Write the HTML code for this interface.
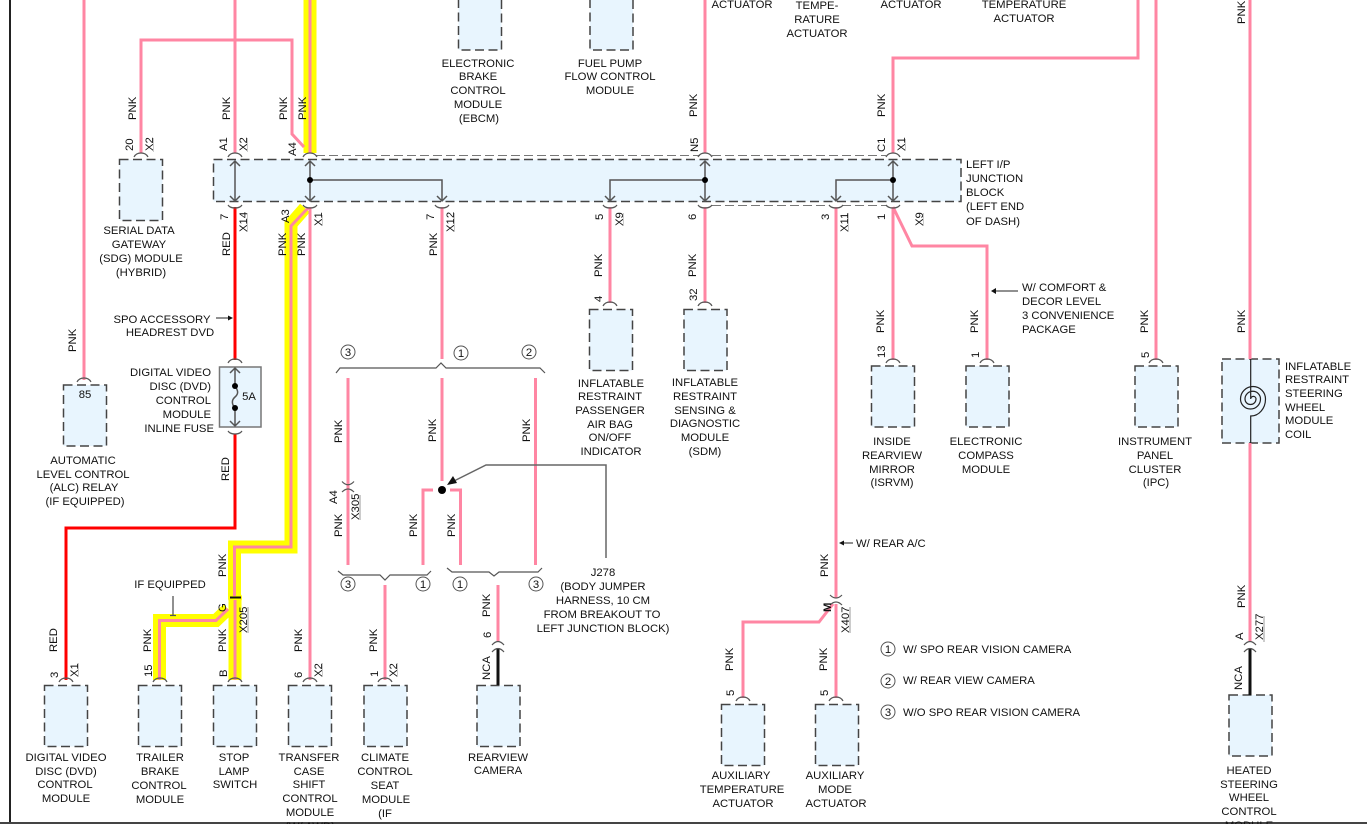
<!DOCTYPE html>
<html><head><meta charset="utf-8"><style>
html,body{margin:0;padding:0;background:#fff;overflow:hidden}
svg{display:block;position:absolute;left:0;top:0}
text{font-family:"Liberation Sans",sans-serif;font-size:11.3px;fill:#111}
.m text{text-anchor:middle}
.w{fill:none;stroke:#ff86a3;stroke-width:3}
.y{fill:none;stroke:#ffff00;stroke-width:13}
.r{fill:none;stroke:#f00;stroke-width:3}
.b rect{fill:#e8f5fe;stroke:#444;stroke-width:1.5;stroke-dasharray:9 4.5}
.c{fill:none;stroke:#555;stroke-width:1.2}
.i{fill:none;stroke:#555;stroke-width:1.5}
.u{fill:#ccc}
circle.n{fill:#fff;stroke:#555;stroke-width:1}
</style></head><body>
<svg width="1367" height="824" viewBox="0 0 1367 824" xmlns="http://www.w3.org/2000/svg">
<rect x="9" y="0" width="2" height="824" fill="#222"/>
<rect x="0" y="822" width="1367" height="2" fill="#444"/>

<!-- boxes -->
<g class="b">
<rect x="213.5" y="159.5" width="747.5" height="42"/>
<rect x="119.5" y="159.5" width="43" height="61"/>
<rect x="63.5" y="385" width="43" height="61"/>
<rect x="458.5" y="-11" width="43" height="61"/>
<rect x="590" y="-11" width="43" height="61"/>
<rect x="589.5" y="309.5" width="43" height="61"/>
<rect x="684" y="309.5" width="43" height="61"/>
<rect x="871.5" y="366" width="43" height="61"/>
<rect x="966" y="366" width="43" height="61"/>
<rect x="1135" y="366" width="43" height="61"/>
<rect x="1222" y="359" width="57" height="84"/>
<rect x="44.5" y="685.5" width="43" height="61"/>
<rect x="138.5" y="685.5" width="43" height="61"/>
<rect x="213.5" y="685.5" width="43" height="61"/>
<rect x="288.5" y="685.5" width="43" height="61"/>
<rect x="364" y="685.5" width="43" height="61"/>
<rect x="477" y="685.5" width="43" height="61"/>
<rect x="721.5" y="704.5" width="43" height="61"/>
<rect x="815.5" y="704.5" width="43" height="61"/>
<rect x="1229" y="695" width="43" height="61"/>
</g>
<path d="M316 155.5H700M712 155.5H886M712 205.5H830M842 205.5H886" fill="none" stroke="#777" stroke-width="1" stroke-dasharray="9 4"/>

<!-- yellow -->
<path class="y" d="M310 0V153M305 208L291 224V547H234.500V597"/>
<path class="y" d="M235 600V680M228 609L216 620.500H159.500V680"/>
<circle cx="235" cy="598" r="7" fill="#ffff00"/>

<!-- wires -->
<path class="w" d="M84 0V380M235 0V153M141 153V40H292V134L304 147M310 0V153M705 0V153M893 153V58H1138V0M1156 0V360M1250 0V359M1250 443V642"/>
<path class="w" d="M308 208L291 226V547H234.500V596M235 600V680M228 609L216 620.500H159.500V680M310 207V680"/>
<path class="w" d="M442 207V359M442 378V481M348 378V565M535.500 378V565M423 565V490H433M450 490H460.500V565M385 585V680M498 585V641"/>
<path class="w" d="M610 207V303M705 207V303M836 207V598M836 604V698M833 604L819 622H743V698M893 207V360M893 207L912 246H987V360"/>
<path class="r" d="M235 207V360M235 434V528H66V680"/>
<path d="M498 648V685M1250 648V695" fill="none" stroke="#111" stroke-width="3"/>
<circle cx="442" cy="490" r="4" fill="#000"/>

<!-- caps -->
<path class="c" d="M134 157q2-4 7-4t7 4M228 157q2-4 7-4t7 4M303 157q2-4 7-4t7 4M698 157q2-4 7-4t7 4M886 157q2-4 7-4t7 4M228 205q2 3 7 3t7-3M303 205q2 3 7 3t7-3M435 205q2 3 7 3t7-3M603 205q2 3 7 3t7-3M698 205q2 3 7 3t7-3M829 205q2 3 7 3t7-3M886 205q2 3 7 3t7-3"/>
<path class="c" d="M603 306q2-4 7-4t7 4M698 306q2-4 7-4t7 4M886 363q2-4 7-4t7 4M980 363q2-4 7-4t7 4M1149 363q2-4 7-4t7 4M77 382q2-4 7-4t7 4M228 363q2-4 7-4t7 4M228 431q2 3 7 3t7-3"/>
<path class="c" d="M59 682q2-4 7-4t7 4M153 682q2-4 7-4t7 4M228 682q2-4 7-4t7 4M303 682q2-4 7-4t7 4M378 682q2-4 7-4t7 4M736 701q2-4 7-4t7 4M829 701q2-4 7-4t7 4"/>
<path class="c" d="M342 481.500Q348 488 354 481.500M342 492Q348 486 354 492"/>
<path class="c" d="M492 645Q498 638 504 645M492 652Q498 645 504 652M1244 645Q1250 638 1256 645M1244 652Q1250 645 1256 652M830 595Q836 601 842 595M830 605Q836 599 842 605"/>
<path d="M230 597.500H241" stroke="#111" stroke-width="2"/>

<!-- internal -->
<path class="i" d="M235 161V201M230 166L235 161L240 166M230 196L235 201L240 196M310 161V201M305 166L310 161L315 166M305 196L310 201L315 196M310 180H442V201M437 196L442 201L447 196M705 161V201M700 166L705 161L710 166M700 196L705 201L710 196M610 201V180H705M605 196L610 201L615 196M893 161V201M888 166L893 161L898 166M888 196L893 201L898 196M836 201V180H893M831 196L836 201L841 196"/>
<circle cx="310" cy="180" r="3"/><circle cx="705" cy="180" r="3"/><circle cx="893" cy="180" r="3"/>

<!-- fuse -->
<rect x="219.500" y="367" width="41.500" height="60" fill="#e8f5fe" stroke="#777" stroke-width="1.500"/>
<path class="i" d="M235 368V386C238.500 391 238.500 394 235 397C231.500 400 231.500 404 235 408V426M230 373L235 368L240 373M230 421L235 426L240 421"/>
<circle cx="235" cy="386" r="3"/><circle cx="235" cy="408" r="3"/>

<!-- coil -->
<path d="M1250.700 359V399A2.600 2.600 0 0 1 1256 399A5.500 5.500 0 0 1 1245 399A7.750 7.750 0 0 1 1260.500 399A10 10 0 0 1 1240.500 399A12.500 12.500 0 0 1 1265.500 399A14.500 17 0 0 1 1250.700 416V443" fill="none" stroke="#222" stroke-width="1.200"/>

<!-- brackets -->
<path class="c" d="M336 373L340 368H436L441 363L446 368H540L545 373M338 571L343 575H380L385 580L390 575H427L431 571M447 568L452 572H489L494 576L499 572H538L542 568" stroke-width="1.200"/>

<!-- leaders -->
<path d="M606 558V465H486L450 483" fill="none" stroke="#666" stroke-width="1.500"/>
<path d="M447 485L457 483L453 476Z" fill="#111"/>
<path d="M216 318H229" stroke="#222" stroke-width="1"/><path d="M233 318L228 315.500V320.500Z" fill="#111"/>
<path d="M1018 291H994" stroke="#222" stroke-width="1"/><path d="M991 291L996 288V294Z" fill="#111"/>
<path d="M853 543H842" stroke="#222" stroke-width="1"/><path d="M839 543L844 540.500V545.500Z" fill="#111"/>
<path d="M173 596V615M170 615.500H176" stroke="#555" stroke-width="1.300" fill="none"/>

<!-- circled numbers -->
<g>
<circle class="n" cx="348" cy="352" r="7"/><circle class="n" cx="461" cy="353" r="7"/><circle class="n" cx="529" cy="352" r="7"/>
<circle class="n" cx="348" cy="584" r="7"/><circle class="n" cx="423" cy="584" r="7"/><circle class="n" cx="460" cy="584" r="7"/><circle class="n" cx="536" cy="584" r="7"/>
<circle class="n" cx="888" cy="649" r="7"/><circle class="n" cx="888" cy="681" r="7"/><circle class="n" cx="888" cy="712" r="7"/>
</g>
<g class="m">
<text x="348" y="356">3</text><text x="461" y="357">1</text><text x="529" y="356">2</text>
<text x="348" y="588">3</text><text x="423" y="588">1</text><text x="460" y="588">1</text><text x="536" y="588">3</text>
<text x="888" y="653">1</text><text x="888" y="685">2</text><text x="888" y="716">3</text>
</g>

<!-- gray label shading -->
<g class="u">
<rect x="153" y="138" width="1" height="14"/><rect x="247" y="138" width="1" height="14"/><rect x="905" y="139" width="1" height="12"/><rect x="247" y="213" width="1" height="19"/><rect x="322" y="215" width="1" height="11"/><rect x="454" y="213" width="1" height="19"/><rect x="623" y="213" width="1" height="13"/><rect x="848" y="213" width="1" height="19"/><rect x="923" y="213" width="1" height="13"/><rect x="359" y="495" width="2" height="25"/><rect x="247" y="607" width="2" height="26"/><rect x="78" y="663" width="1" height="14"/><rect x="322" y="663" width="1" height="14"/><rect x="397" y="663" width="1" height="14"/><rect x="849" y="607" width="2" height="26"/><rect x="1263" y="616" width="2" height="26"/>
</g>

<!-- rotated labels -->
<text transform="translate(136 120) rotate(-90)">PNK</text>
<text transform="translate(133 151) rotate(-90)">20</text>
<text transform="translate(153 151) rotate(-90)">X2</text>
<text transform="translate(230 120) rotate(-90)">PNK</text>
<text transform="translate(227 151) rotate(-90)">A1</text>
<text transform="translate(247 151) rotate(-90)">X2</text>
<text transform="translate(287 120) rotate(-90)">PNK</text>
<text transform="translate(306 120) rotate(-90)">PNK</text>
<text transform="translate(296 156) rotate(-90)">A4</text>
<text transform="translate(697 117) rotate(-90)">PNK</text>
<text transform="translate(698 152) rotate(-90)">N5</text>
<text transform="translate(885 117) rotate(-90)">PNK</text>
<text transform="translate(885 152) rotate(-90)">C1</text>
<text transform="translate(905 151) rotate(-90)">X1</text>
<text transform="translate(1245 24) rotate(-90)">PNK</text>
<text transform="translate(228 220) rotate(-90)">7</text>
<text transform="translate(247 232) rotate(-90)">X14</text>
<text transform="translate(230 256) rotate(-90)">RED</text>
<text transform="translate(289 223) rotate(-90)">A3</text>
<text transform="translate(322 226) rotate(-90)">X1</text>
<text transform="translate(286 256) rotate(-90)">PNK</text>
<text transform="translate(305 256) rotate(-90)">PNK</text>
<text transform="translate(434 220) rotate(-90)">7</text>
<text transform="translate(454 232) rotate(-90)">X12</text>
<text transform="translate(437 256) rotate(-90)">PNK</text>
<text transform="translate(603 220) rotate(-90)">5</text>
<text transform="translate(623 226) rotate(-90)">X9</text>
<text transform="translate(602 277) rotate(-90)">PNK</text>
<text transform="translate(602 302) rotate(-90)">4</text>
<text transform="translate(696 220) rotate(-90)">6</text>
<text transform="translate(696 277) rotate(-90)">PNK</text>
<text transform="translate(697 301) rotate(-90)">32</text>
<text transform="translate(829 220) rotate(-90)">3</text>
<text transform="translate(848 232) rotate(-90)">X11</text>
<text transform="translate(885 220) rotate(-90)">1</text>
<text transform="translate(923 226) rotate(-90)">X9</text>
<text transform="translate(884 333) rotate(-90)">PNK</text>
<text transform="translate(885 358) rotate(-90)">13</text>
<text transform="translate(978 333) rotate(-90)">PNK</text>
<text transform="translate(979 358) rotate(-90)">1</text>
<text transform="translate(1148 333) rotate(-90)">PNK</text>
<text transform="translate(1149 358) rotate(-90)">5</text>
<text transform="translate(1245 333) rotate(-90)">PNK</text>
<text transform="translate(76 352) rotate(-90)">PNK</text>
<text transform="translate(229 481) rotate(-90)">RED</text>
<text transform="translate(342 443) rotate(-90)">PNK</text>
<text transform="translate(337 504) rotate(-90)">A4</text>
<text transform="translate(359 520) rotate(-90)">X305</text>
<text transform="translate(342 537) rotate(-90)">PNK</text>
<text transform="translate(436 442) rotate(-90)">PNK</text>
<text transform="translate(530 442) rotate(-90)">PNK</text>
<text transform="translate(417 537) rotate(-90)">PNK</text>
<text transform="translate(455 537) rotate(-90)">PNK</text>
<text transform="translate(377 652) rotate(-90)">PNK</text>
<text transform="translate(378 677) rotate(-90)">1</text>
<text transform="translate(397 677) rotate(-90)">X2</text>
<text transform="translate(490 617) rotate(-90)">PNK</text>
<text transform="translate(491 638) rotate(-90)">6</text>
<text transform="translate(490 680) rotate(-90)">NCA</text>
<text transform="translate(57 652) rotate(-90)">RED</text>
<text transform="translate(58 678) rotate(-90)">3</text>
<text transform="translate(78 677) rotate(-90)">X1</text>
<text transform="translate(151 652) rotate(-90)">PNK</text>
<text transform="translate(152 677) rotate(-90)">15</text>
<text transform="translate(226 577) rotate(-90)">PNK</text>
<text transform="translate(226 612) rotate(-90)">G</text>
<text transform="translate(247 633) rotate(-90)">X205</text>
<text transform="translate(226 652) rotate(-90)">PNK</text>
<text transform="translate(227 677) rotate(-90)">B</text>
<text transform="translate(302 652) rotate(-90)">PNK</text>
<text transform="translate(302 678) rotate(-90)">6</text>
<text transform="translate(322 677) rotate(-90)">X2</text>
<text transform="translate(828 577) rotate(-90)">PNK</text>
<text transform="translate(831 612) rotate(-90)" font-weight="bold">M</text>
<text transform="translate(849 633) rotate(-90)">X407</text>
<text transform="translate(827 671) rotate(-90)">PNK</text>
<text transform="translate(828 696) rotate(-90)">5</text>
<text transform="translate(733 671) rotate(-90)">PNK</text>
<text transform="translate(734 696) rotate(-90)">5</text>
<text transform="translate(1245 608) rotate(-90)">PNK</text>
<text transform="translate(1243 640) rotate(-90)">A</text>
<text transform="translate(1263 640) rotate(-90)">X277</text>
<text transform="translate(1242 690) rotate(-90)">NCA</text>

<!-- horizontal labels -->
<g class="m">
<text x="742" y="8">ACTUATOR</text>
<text x="817" y="9">TEMPE-</text><text x="817" y="23">RATURE</text><text x="817" y="37">ACTUATOR</text>
<text x="911" y="8">ACTUATOR</text>
<text x="1024" y="8">TEMPERATURE</text><text x="1024" y="22">ACTUATOR</text>
<text x="478" y="67">ELECTRONIC</text><text x="478" y="80">BRAKE</text><text x="478" y="94">CONTROL</text><text x="478" y="108">MODULE</text><text x="479" y="122">(EBCM)</text>
<text x="610" y="67">FUEL PUMP</text><text x="610" y="80">FLOW CONTROL</text><text x="610" y="94">MODULE</text>
<text x="139" y="234">SERIAL DATA</text><text x="139" y="248">GATEWAY</text><text x="141" y="262">(SDG) MODULE</text><text x="141" y="276">(HYBRID)</text>
<text x="85" y="398">85</text>
<text x="83" y="464">AUTOMATIC</text><text x="83" y="478">LEVEL CONTROL</text><text x="84" y="491">(ALC) RELAY</text><text x="85" y="505">(IF EQUIPPED)</text>
<text x="162" y="323">SPO ACCESSORY</text><text x="170" y="336">HEADREST DVD</text>
<text x="249" y="400">5A</text>
<text x="170" y="588">IF EQUIPPED</text>
<text x="66" y="761">DIGITAL VIDEO</text><text x="66" y="775">DISC (DVD)</text><text x="65" y="788">CONTROL</text><text x="66" y="802">MODULE</text>
<text x="160" y="761">TRAILER</text><text x="160" y="775">BRAKE</text><text x="159" y="789">CONTROL</text><text x="160" y="803">MODULE</text>
<text x="234" y="761">STOP</text><text x="234" y="775">LAMP</text><text x="235" y="788">SWITCH</text>
<text x="309" y="761">TRANSFER</text><text x="309" y="775">CASE</text><text x="309" y="788">SHIFT</text><text x="310" y="802">CONTROL</text><text x="310" y="816">MODULE</text><text x="310" y="830">(W/ AWD)</text>
<text x="385" y="761">CLIMATE</text><text x="385" y="775">CONTROL</text><text x="385" y="789">SEAT</text><text x="386" y="803">MODULE</text><text x="385" y="817">(IF</text>
<text x="498" y="761">REARVIEW</text><text x="498" y="774">CAMERA</text>
<text x="611" y="387">INFLATABLE</text><text x="610" y="400">RESTRAINT</text><text x="610" y="414">PASSENGER</text><text x="610" y="428">AIR BAG</text><text x="610" y="441">ON/OFF</text><text x="611" y="455">INDICATOR</text>
<text x="705" y="386">INFLATABLE</text><text x="705" y="400">RESTRAINT</text><text x="705" y="414">SENSING &amp;</text><text x="705" y="427">DIAGNOSTIC</text><text x="705" y="441">MODULE</text><text x="705" y="455">(SDM)</text>
<text x="892" y="445">INSIDE</text><text x="892" y="459">REARVIEW</text><text x="892" y="473">MIRROR</text><text x="892" y="486">(ISRVM)</text>
<text x="986" y="445">ELECTRONIC</text><text x="986" y="459">COMPASS</text><text x="986" y="473">MODULE</text>
<text x="1155" y="445">INSTRUMENT</text><text x="1155" y="459">PANEL</text><text x="1155" y="473">CLUSTER</text><text x="1156" y="486">(IPC)</text>
<text x="603" y="576">J278</text><text x="603" y="590">(BODY JUMPER</text><text x="603" y="604">HARNESS, 10 CM</text><text x="602" y="618">FROM BREAKOUT TO</text><text x="603" y="632">LEFT JUNCTION BLOCK)</text>
<text x="741" y="779">AUXILIARY</text><text x="742" y="793">TEMPERATURE</text><text x="743" y="807">ACTUATOR</text>
<text x="835" y="779">AUXILIARY</text><text x="835" y="793">MODE</text><text x="836" y="807">ACTUATOR</text>
<text x="1249" y="774">HEATED</text><text x="1249" y="788">STEERING</text><text x="1249" y="801">WHEEL</text><text x="1249" y="815">CONTROL</text><text x="1249" y="829">MODULE</text>
</g>
<g text-anchor="end">
<text x="211" y="376">DIGITAL VIDEO</text><text x="211" y="390">DISC (DVD)</text><text x="211" y="404">CONTROL</text><text x="211" y="418">MODULE</text><text x="214" y="432">INLINE FUSE</text>
</g>
<text x="966" y="168">LEFT I/P</text><text x="966" y="182">JUNCTION</text><text x="966" y="196">BLOCK</text><text x="966" y="210">(LEFT END</text><text x="966" y="225">OF DASH)</text>
<text x="1022" y="291">W/ COMFORT &amp;</text><text x="1022" y="305">DECOR LEVEL</text><text x="1022" y="319">3 CONVENIENCE</text><text x="1022" y="333">PACKAGE</text>
<text x="856" y="547">W/ REAR A/C</text>
<text x="1285" y="370">INFLATABLE</text><text x="1285" y="383">RESTRAINT</text><text x="1285" y="397">STEERING</text><text x="1285" y="411">WHEEL</text><text x="1285" y="424">MODULE</text><text x="1285" y="438">COIL</text>
<text x="903" y="653">W/ SPO REAR VISION CAMERA</text>
<text x="903" y="684">W/ REAR VIEW CAMERA</text>
<text x="903" y="716">W/O SPO REAR VISION CAMERA</text>
</svg>
</body></html>
